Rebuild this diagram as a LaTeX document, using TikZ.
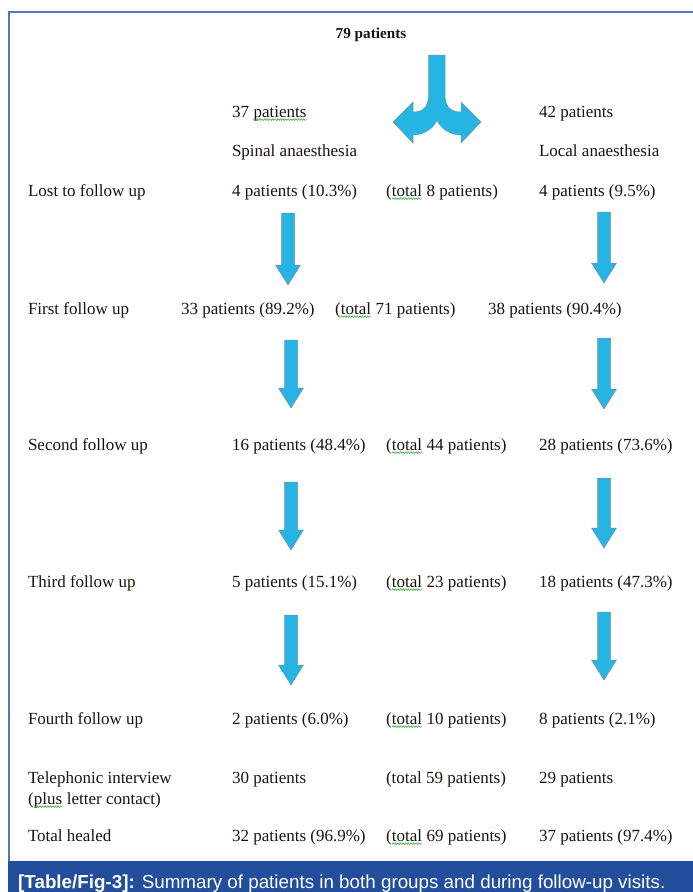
\documentclass[tikz,border=0pt]{standalone}
\usepackage{fontspec}
\setmainfont{Liberation Serif}
\newfontfamily\capfont{Liberation Sans}
\usetikzlibrary{decorations.pathmorphing}
\definecolor{arrfill}{RGB}{38,180,226}
\definecolor{arredge}{RGB}{120,150,170}
\definecolor{framecol}{RGB}{80,118,190}
\definecolor{barcol}{RGB}{35,78,155}
\definecolor{sqcol}{RGB}{60,170,60}
\definecolor{txtcol}{RGB}{25,20,15}
\tikzset{
  txt/.style={anchor=base west, inner sep=0pt, outer sep=0pt, font=\fontsize{17}{19}\selectfont, text=txtcol},
  blockarrow/.style={fill=arrfill, draw=arredge, line width=0.5pt},
  squig/.style={sqcol, line width=0.6pt, decorate, decoration={snake, amplitude=0.8pt, segment length=2.6pt}}
}
\newcommand\sq[1]{\tikz[baseline=(w.base)]{\node[anchor=base west,inner sep=0pt,outer sep=0pt] (w) at (0,0) {#1};\draw[squig] ([yshift=-2.6pt]w.base west) -- ([yshift=-2.6pt]w.base east);}}
\newcommand\blockdown[3]{%
  \draw[blockarrow] ({#1-6.5},#2) -- ({#1+6.5},#2) -- ({#1+6.5},{#3-20}) -- ({#1+12.5},{#3-20}) -- (#1,#3) -- ({#1-12.5},{#3-20}) -- ({#1-6.5},{#3-20}) -- cycle;}
\begin{document}
\begin{tikzpicture}[x=1pt,y=-1pt]
\useasboundingbox (0,0) rectangle (693,892);
\fill[white] (0,0) rectangle (693,892);
% frame
\draw[framecol, line width=2pt] (9,862) -- (9,12) -- (693,12);
\fill[barcol] (8,861) rectangle (693,892);
\node[anchor=base west, inner sep=0pt, text=white, font=\capfont\fontsize{18.8}{20}\selectfont] (cap) at (18,888) {\textbf{[Table/Fig-3]:} Summary of patients in both groups and during follow-up visits.};
% title
\node[anchor=base, inner sep=0pt, text=txtcol, font=\bfseries\fontsize{15.2}{17}\selectfont] (top) at (371,38) {79 patients};
% split arrow
\draw[blockarrow] (428.5,55) -- (445,55) -- (445,95)
  .. controls (445,107) and (451,112) .. (461,112) -- (461,102) -- (481,122) -- (461,143) -- (461,135)
  .. controls (450,135) and (440,128) .. (437,120)
  .. controls (434,128) and (424,135) .. (413,135) -- (413,143) -- (393,122) -- (413,102) -- (413,112)
  .. controls (423,112) and (428.5,107) .. (428.5,95) -- cycle;
% group headers
\node[txt] (g1) at (232,117) {37 \sq{patients}};
\node[txt] (g2) at (539,117) {42 patients};
\node[txt] (s1) at (232,156) {Spinal anaesthesia};
\node[txt] (s2) at (539,156) {Local anaesthesia};
% lost
\node[txt] (l0) at (28,196) {Lost to follow up};
\node[txt] (l1) at (232,196) {4 patients (10.3\%)};
\node[txt] (lt) at (386,196) {(\sq{total} 8 patients)};
\node[txt] (l2) at (539,196) {4 patients (9.5\%)};
% first
\node[txt] (f0) at (28,314) {First follow up};
\node[txt] (f1) at (181,314) {33 patients (89.2\%)};
\node[txt] (ft) at (335,314) {(\sq{total} 71 patients)};
\node[txt] (f2) at (488,314) {38 patients (90.4\%)};
% second
\node[txt] (e0) at (28,450) {Second follow up};
\node[txt] (e1) at (232,450) {16 patients (48.4\%)};
\node[txt] (et) at (386,450) {(\sq{total} 44 patients)};
\node[txt] (e2) at (539,450) {28 patients (73.6\%)};
% third
\node[txt] (t0) at (28,587) {Third follow up};
\node[txt] (t1) at (232,587) {5 patients (15.1\%)};
\node[txt] (tt) at (386,587) {(\sq{total} 23 patients)};
\node[txt] (t2) at (539,587) {18 patients (47.3\%)};
% fourth
\node[txt] (q0) at (28,724) {Fourth follow up};
\node[txt] (q1) at (232,724) {2 patients (6.0\%)};
\node[txt] (qt) at (386,724) {(\sq{total} 10 patients)};
\node[txt] (q2) at (539,724) {8 patients (2.1\%)};
% telephonic
\node[txt] (p0) at (28,783) {Telephonic interview};
\node[txt] (p0b) at (28,804) {(\sq{plus} letter contact)};
\node[txt] (p1) at (232,783) {30 patients};
\node[txt] (pt) at (386,783) {(total 59 patients)};
\node[txt] (p2) at (539,783) {29 patients};
% total healed
\node[txt] (h0) at (28,841) {Total healed};
\node[txt] (h1) at (232,841) {32 patients (96.9\%)};
\node[txt] (ht) at (386,841) {(\sq{total} 69 patients)};
\node[txt] (h2) at (539,841) {37 patients (97.4\%)};
% down arrows
\blockdown{288}{213}{285}
\blockdown{604}{212}{283}
\blockdown{291}{340}{408}
\blockdown{604}{338}{409}
\blockdown{291}{482}{550}
\blockdown{604}{478}{548}
\blockdown{291}{615}{685}
\blockdown{604}{612}{680}
\end{tikzpicture}
\end{document}
